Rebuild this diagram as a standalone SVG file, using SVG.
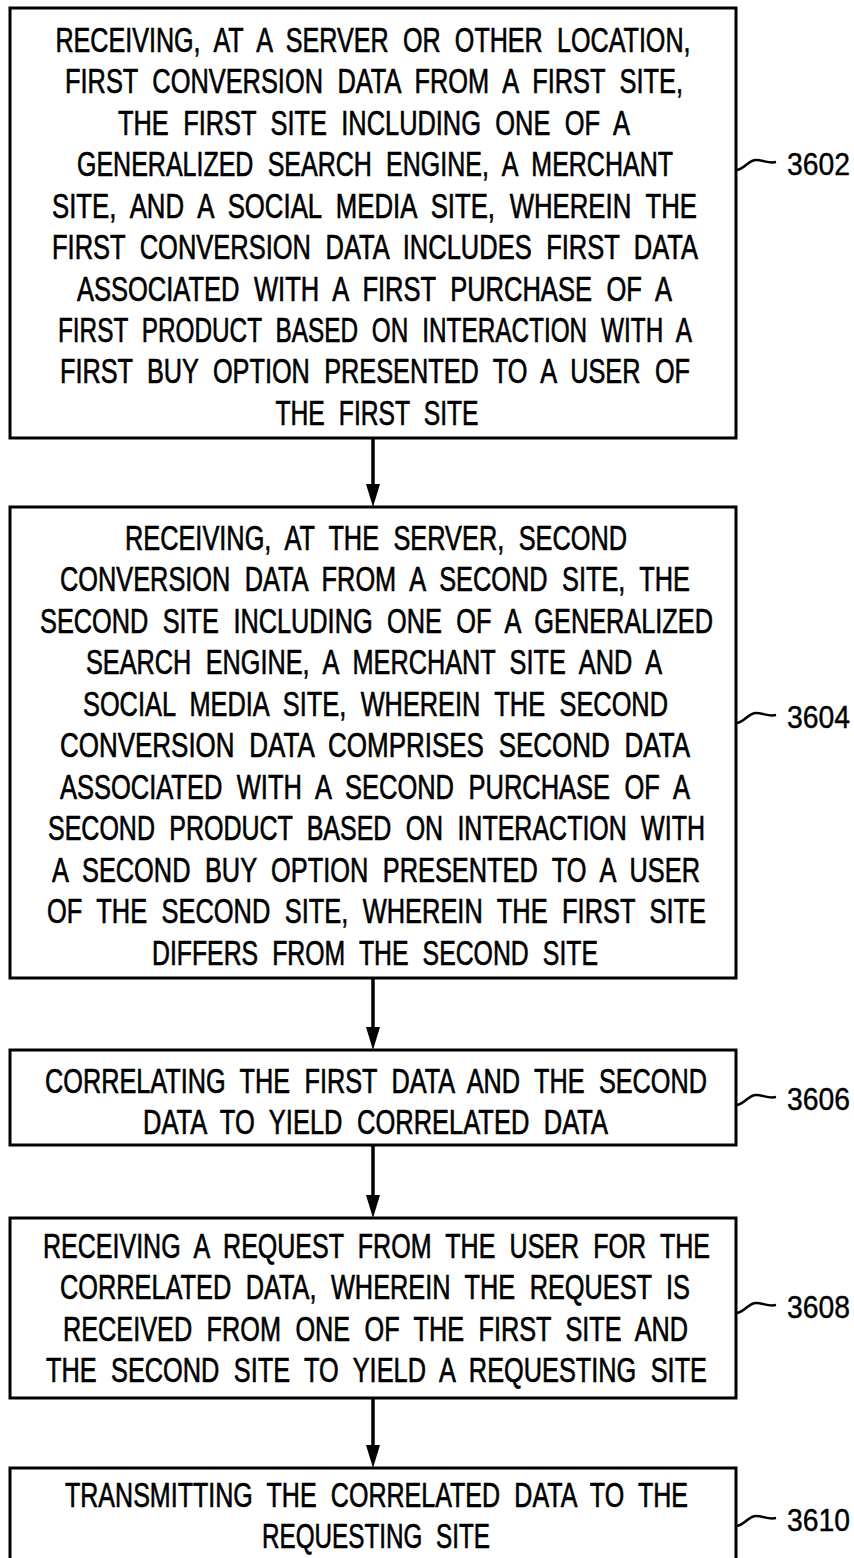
<svg xmlns="http://www.w3.org/2000/svg" width="854" height="1558" viewBox="0 0 854 1558">
<defs>
<style>
.box{fill:#fff;stroke:#000;stroke-width:3}
.t{font-family:"Liberation Sans",Arial,sans-serif;font-size:24px;fill:#000;text-anchor:middle;stroke:#000;stroke-width:0.45;word-spacing:7px}
.lbl{font-family:"Liberation Sans",Arial,sans-serif;font-size:31px;fill:#000;stroke:#000;stroke-width:0.4}
.sq{fill:none;stroke:#000;stroke-width:2.5}
.conn{stroke:#000;stroke-width:3.5;fill:none}
</style>
</defs>
<rect width="854" height="1558" fill="#fff"/>

<g id="connectors">
<line class="conn" x1="373" y1="438" x2="373" y2="484"/>
<path d="M366,484 L380,484 L373,507 Z" fill="#000"/>
<line class="conn" x1="373" y1="978" x2="373" y2="1027"/>
<path d="M366,1027 L380,1027 L373,1050 Z" fill="#000"/>
<line class="conn" x1="373" y1="1145" x2="373" y2="1195"/>
<path d="M366,1195 L380,1195 L373,1218 Z" fill="#000"/>
<line class="conn" x1="373" y1="1398" x2="373" y2="1445"/>
<path d="M366,1445 L380,1445 L373,1468 Z" fill="#000"/>
</g>

<g id="n3602">
<rect class="box" x="10" y="8" width="726" height="430"/>
<g transform="scale(1,1.5)">
<text class="t" x="373" y="34.667" textLength="635" lengthAdjust="spacingAndGlyphs">RECEIVING, AT A SERVER OR OTHER LOCATION,</text>
<text class="t" x="374" y="62.267" textLength="618" lengthAdjust="spacingAndGlyphs">FIRST CONVERSION DATA FROM A FIRST SITE,</text>
<text class="t" x="374" y="89.933" textLength="512" lengthAdjust="spacingAndGlyphs">THE FIRST SITE INCLUDING ONE OF A</text>
<text class="t" x="375" y="117.533" textLength="596" lengthAdjust="spacingAndGlyphs">GENERALIZED SEARCH ENGINE, A MERCHANT</text>
<text class="t" x="374.5" y="145.2" textLength="645" lengthAdjust="spacingAndGlyphs">SITE, AND A SOCIAL MEDIA SITE, WHEREIN THE</text>
<text class="t" x="375" y="172.8" textLength="646" lengthAdjust="spacingAndGlyphs">FIRST CONVERSION DATA INCLUDES FIRST DATA</text>
<text class="t" x="374.5" y="200.4" textLength="595" lengthAdjust="spacingAndGlyphs">ASSOCIATED WITH A FIRST PURCHASE OF A</text>
<text class="t" x="375" y="228.067" textLength="634" lengthAdjust="spacingAndGlyphs">FIRST PRODUCT BASED ON INTERACTION WITH A</text>
<text class="t" x="375" y="255.667" textLength="630" lengthAdjust="spacingAndGlyphs">FIRST BUY OPTION PRESENTED TO A USER OF</text>
<text class="t" x="377" y="283.333" textLength="203" lengthAdjust="spacingAndGlyphs">THE FIRST SITE</text>
</g>
<path class="sq" d="M736,170 C744,170 748,160 756,160 C764,160 768,164 776,162"/>
<text class="lbl" x="787" y="175" textLength="63" lengthAdjust="spacingAndGlyphs">3602</text>
</g>

<g id="n3604">
<rect class="box" x="10" y="507" width="726" height="471"/>
<g transform="scale(1,1.5)">
<text class="t" x="376" y="366.667" textLength="502" lengthAdjust="spacingAndGlyphs">RECEIVING, AT THE SERVER, SECOND</text>
<text class="t" x="375" y="394.333" textLength="630" lengthAdjust="spacingAndGlyphs">CONVERSION DATA FROM A SECOND SITE, THE</text>
<text class="t" x="376.5" y="422" textLength="673" lengthAdjust="spacingAndGlyphs">SECOND SITE INCLUDING ONE OF A GENERALIZED</text>
<text class="t" x="374" y="449.667" textLength="576" lengthAdjust="spacingAndGlyphs">SEARCH ENGINE, A MERCHANT SITE AND A</text>
<text class="t" x="375.5" y="477.333" textLength="585" lengthAdjust="spacingAndGlyphs">SOCIAL MEDIA SITE, WHEREIN THE SECOND</text>
<text class="t" x="375" y="505" textLength="630" lengthAdjust="spacingAndGlyphs">CONVERSION DATA COMPRISES SECOND DATA</text>
<text class="t" x="375" y="532.667" textLength="630" lengthAdjust="spacingAndGlyphs">ASSOCIATED WITH A SECOND PURCHASE OF A</text>
<text class="t" x="376.5" y="560.333" textLength="657" lengthAdjust="spacingAndGlyphs">SECOND PRODUCT BASED ON INTERACTION WITH</text>
<text class="t" x="376" y="588" textLength="648" lengthAdjust="spacingAndGlyphs">A SECOND BUY OPTION PRESENTED TO A USER</text>
<text class="t" x="376.5" y="615.667" textLength="659" lengthAdjust="spacingAndGlyphs">OF THE SECOND SITE, WHEREIN THE FIRST SITE</text>
<text class="t" x="375" y="643.333" textLength="446" lengthAdjust="spacingAndGlyphs">DIFFERS FROM THE SECOND SITE</text>
</g>
<path class="sq" d="M736,723 C744,723 748,713 756,713 C764,713 768,717 776,715"/>
<text class="lbl" x="787" y="728" textLength="63" lengthAdjust="spacingAndGlyphs">3604</text>
</g>

<g id="n3606">
<rect class="box" x="10" y="1050" width="726" height="95"/>
<g transform="scale(1,1.5)">
<text class="t" x="376" y="728.667" textLength="662" lengthAdjust="spacingAndGlyphs">CORRELATING THE FIRST DATA AND THE SECOND</text>
<text class="t" x="375.5" y="756.333" textLength="465" lengthAdjust="spacingAndGlyphs">DATA TO YIELD CORRELATED DATA</text>
</g>
<path class="sq" d="M736,1105 C744,1105 748,1095 756,1095 C764,1095 768,1099 776,1097"/>
<text class="lbl" x="787" y="1110" textLength="63" lengthAdjust="spacingAndGlyphs">3606</text>
</g>

<g id="n3608">
<rect class="box" x="10" y="1218" width="726" height="180"/>
<g transform="scale(1,1.5)">
<text class="t" x="376.5" y="838.667" textLength="667" lengthAdjust="spacingAndGlyphs">RECEIVING A REQUEST FROM THE USER FOR THE</text>
<text class="t" x="375" y="866.333" textLength="630" lengthAdjust="spacingAndGlyphs">CORRELATED DATA, WHEREIN THE REQUEST IS</text>
<text class="t" x="375.5" y="894" textLength="625" lengthAdjust="spacingAndGlyphs">RECEIVED FROM ONE OF THE FIRST SITE AND</text>
<text class="t" x="376.5" y="921.667" textLength="661" lengthAdjust="spacingAndGlyphs">THE SECOND SITE TO YIELD A REQUESTING SITE</text>
</g>
<path class="sq" d="M736,1313 C744,1313 748,1303 756,1303 C764,1303 768,1307 776,1305"/>
<text class="lbl" x="787" y="1318" textLength="63" lengthAdjust="spacingAndGlyphs">3608</text>
</g>

<g id="n3610">
<rect class="box" x="10" y="1468" width="726" height="110"/>
<g transform="scale(1,1.5)">
<text class="t" x="376.5" y="1004.667" textLength="623" lengthAdjust="spacingAndGlyphs">TRANSMITTING THE CORRELATED DATA TO THE</text>
<text class="t" x="376" y="1032.333" textLength="228" lengthAdjust="spacingAndGlyphs">REQUESTING SITE</text>
</g>
<path class="sq" d="M736,1526 C744,1526 748,1516 756,1516 C764,1516 768,1520 776,1518"/>
<text class="lbl" x="787" y="1531" textLength="63" lengthAdjust="spacingAndGlyphs">3610</text>
</g>
</svg>
